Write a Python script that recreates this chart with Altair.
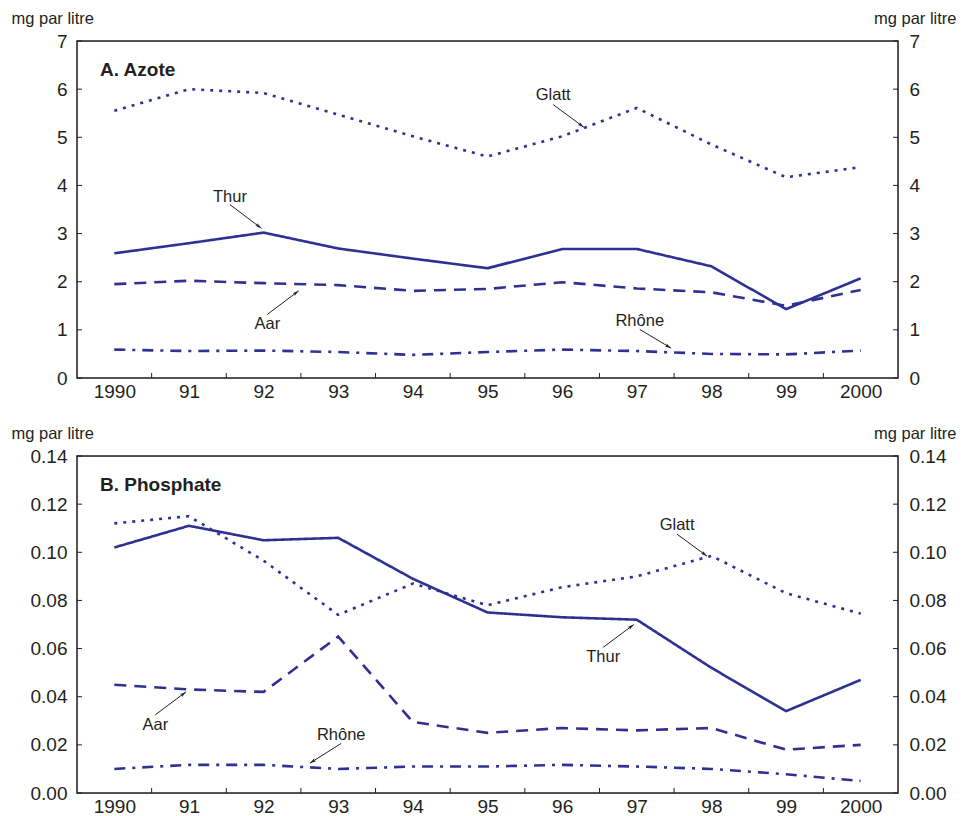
import math
import altair as alt
import pandas as pd

# ---------------- data ----------------
years = list(range(1990, 2001))
series = ["Thur", "Aar", "Glatt", "Rhône"]

azote_thur = [2.59, 2.80, 3.02, 2.69, 2.48, 2.28, 2.68, 2.68, 2.32, 1.43, 2.07]
azote_aar = [1.95, 2.02, 1.97, 1.93, 1.81, 1.85, 1.99, 1.86, 1.78, 1.50, 1.83]
azote_glatt = [5.55, 6.00, 5.92, 5.47, 5.02, 4.60, 5.02, 5.61, 4.85, 4.17, 4.38]
azote_rhone = [0.59, 0.56, 0.57, 0.54, 0.48, 0.54, 0.59, 0.56, 0.50, 0.49, 0.57]

phos_thur = [0.102, 0.111, 0.105, 0.106, 0.089, 0.075, 0.073, 0.072, 0.052, 0.034, 0.047]
phos_aar = [0.045, 0.043, 0.042, 0.065, 0.0295, 0.025, 0.027, 0.026, 0.027, 0.018, 0.020]
phos_glatt = [0.112, 0.115, 0.0965, 0.074, 0.087, 0.078, 0.0855, 0.090, 0.0985, 0.083, 0.0745]
phos_rhone = [0.010, 0.0117, 0.0117, 0.010, 0.011, 0.011, 0.0117, 0.011, 0.010, 0.0078, 0.005]

# annotations: label, text centre (year, value), arrow start, arrow tip
azote_notes_label = ["Thur", "Aar", "Glatt", "Rhône"]
azote_notes_text = [(1991.55, 3.77), (1992.05, 1.13), (1995.88, 5.87), (1997.04, 1.19)]
azote_notes_from = [(1991.55, 3.60), (1992.05, 1.32), (1995.88, 5.68), (1997.04, 1.01)]
azote_notes_to = [(1991.97, 3.11), (1992.47, 1.81), (1996.29, 5.21), (1997.46, 0.62)]

phos_notes_label = ["Glatt", "Thur", "Aar", "Rhône"]
phos_notes_text = [(1997.54, 0.1112), (1996.55, 0.0564), (1990.55, 0.0284), (1993.04, 0.0239)]
phos_notes_from = [(1997.54, 0.1075), (1996.55, 0.0605), (1990.55, 0.0325), (1993.04, 0.0206)]
phos_notes_to = [(1997.94, 0.0984), (1996.96, 0.0700), (1990.96, 0.0420), (1992.62, 0.0124)]

# ---------------- style ----------------
W = 821
H = 337
LINE = "#2e3192"
INK = "#231f20"
FONT = "Liberation Sans"
dash_styles = {"Thur": [1, 0], "Aar": [12, 8], "Glatt": [3, 6], "Rhône": [11, 7, 3, 7]}
ARROW = "M0,0L0.55,2L0,1.55L-0.55,2Z"


def panel(vals, ymax, ystep, yfmt, title, labels, texts, froms, tos):
    df = pd.DataFrame(
        [{"year": y, "series": s, "value": v}
         for s, arr in vals.items() for y, v in zip(years, arr)]
    )
    nt = int(round(ymax / ystep))
    ytick_vals = [round(i * ystep, 4) for i in range(nt + 1)]

    xsc = alt.Scale(domain=[1989.5, 2000.5], nice=False, zero=False)
    ysc = alt.Scale(domain=[0, ymax], nice=False, zero=False)
    xaxis = alt.Axis(
        values=years,
        labelExpr="datum.value == 1990 || datum.value == 2000 ? format(datum.value, 'd') : substring(format(datum.value, 'd'), 2, 4)",
        tickSize=0, domain=False, grid=False, labelPadding=4,
        labelFontSize=19, labelColor=INK, labelFlush=False, title=None,
    )

    def X(f):
        return alt.X(f, type="quantitative", scale=xsc, axis=xaxis)

    def Y(f, axis=None):
        return alt.Y(f, type="quantitative", scale=ysc, axis=axis)

    yleft = alt.Axis(
        orient="left", values=ytick_vals, format=yfmt, tickSize=0, domain=False,
        grid=False, labelPadding=10, labelFontSize=19, labelColor=INK,
        title="mg par litre", titleAngle=0, titleAlign="left",
        titleBaseline="alphabetic", titleX=-66, titleY=-18, titleFontSize=16.5,
        titleFontWeight="normal", titleColor=INK,
    )
    yright = alt.Axis(
        orient="right", values=ytick_vals, format=yfmt, tickSize=0, domain=False,
        grid=False, labelPadding=11, labelFontSize=19, labelColor=INK,
        title="mg par litre", titleAngle=0, titleAlign="right",
        titleBaseline="alphabetic", titleX=58, titleY=-18, titleFontSize=16.5,
        titleFontWeight="normal", titleColor=INK,
    )

    frame = alt.Chart(pd.DataFrame({"f": [0]})).mark_rect(
        fill=None, fillOpacity=0, stroke=INK, strokeWidth=1.5
    ).encode(x=alt.value(0), x2=alt.value(W), y=alt.value(0), y2=alt.value(H))

    lines = alt.Chart(df).mark_line(strokeWidth=2.6, color=LINE).encode(
        x=X("year"),
        y=Y("value", yleft),
        strokeDash=alt.StrokeDash(
            "series:N",
            scale=alt.Scale(domain=series, range=[dash_styles[s] for s in series]),
            legend=None,
        ),
    )

    xt = pd.DataFrame({"x": [y + 0.5 for y in years[:-1]]})
    xticks = alt.Chart(xt).mark_rule(color=INK, strokeWidth=1).encode(
        x=X("x"), y=alt.value(H), y2=alt.value(H - 5)
    )
    yt = pd.DataFrame({"v": ytick_vals})
    yticks_l = alt.Chart(yt).mark_rule(color=INK, strokeWidth=1).encode(
        y=Y("v"), x=alt.value(0), x2=alt.value(5)
    )
    yticks_r = alt.Chart(yt).mark_rule(color=INK, strokeWidth=1).encode(
        y=Y("v", yright), x=alt.value(W - 5), x2=alt.value(W)
    )

    pxx = W / 11.0
    pxy = H / ymax
    rows = []
    for lab, t, f, e in zip(labels, texts, froms, tos):
        dx = (e[0] - f[0]) * pxx
        dy = -(e[1] - f[1]) * pxy
        ang = math.degrees(math.atan2(dx, -dy)) % 360
        rows.append({"label": lab, "tx": t[0], "ty": t[1], "sx": f[0], "sy": f[1],
                     "ex": e[0], "ey": e[1], "angle": ang})
    adf = pd.DataFrame(rows)

    atext = alt.Chart(adf).mark_text(
        fontSize=16.5, color=INK, align="center", baseline="middle"
    ).encode(x=X("tx"), y=Y("ty"), text="label:N")
    arule = alt.Chart(adf).mark_rule(color=INK, strokeWidth=1).encode(
        x=X("sx"), y=Y("sy"), x2="ex:Q", y2="ey:Q"
    )
    ahead = alt.Chart(adf).mark_point(
        shape=ARROW, filled=True, color=INK, size=40, opacity=1, strokeWidth=0
    ).encode(x=X("ex"), y=Y("ey"), angle=alt.Angle("angle:Q", scale=None))

    ttl = alt.Chart(pd.DataFrame({"t": [title]})).mark_text(
        align="left", baseline="alphabetic", fontSize=19, fontWeight="bold", color=INK
    ).encode(x=alt.value(23), y=alt.value(35), text="t:N")

    return alt.layer(
        frame, lines, xticks, yticks_l, yticks_r, arule, ahead, atext, ttl
    ).resolve_scale(y="independent").properties(width=W, height=H)


top = panel(
    {"Thur": azote_thur, "Aar": azote_aar, "Glatt": azote_glatt, "Rhône": azote_rhone},
    7, 1, "d", "A. Azote",
    azote_notes_label, azote_notes_text, azote_notes_from, azote_notes_to,
)
bottom = panel(
    {"Thur": phos_thur, "Aar": phos_aar, "Glatt": phos_glatt, "Rhône": phos_rhone},
    0.14, 0.02, ".2f", "B. Phosphate",
    phos_notes_label, phos_notes_text, phos_notes_from, phos_notes_to,
)

chart = (
    alt.vconcat(top, bottom, spacing=22)
    .properties(padding={"left": 2, "top": 1, "right": 0, "bottom": 0})
    .configure_view(stroke=None)
    .configure(font=FONT)
)

chart.save("out.html", embed_options={"renderer": "svg", "actions": False})
